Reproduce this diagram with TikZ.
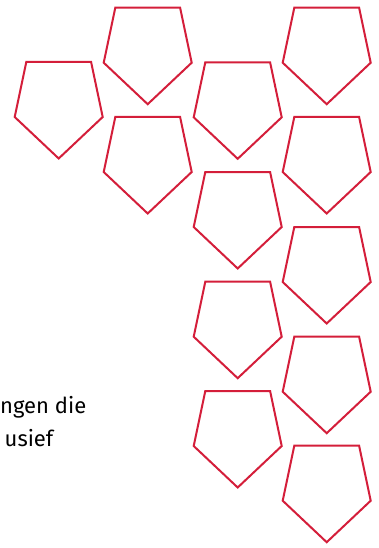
\documentclass[tikz,border=0pt]{standalone}
\usepackage{fontspec}
\setmainfont{Fira Sans}
\usepackage{xcolor}
\usepackage{tikz}

\definecolor{shieldred}{RGB}{212,30,58}

\begin{document}
\begin{tikzpicture}[x=1pt, y=-1pt, shield/.style={draw=shieldred, line width=2pt, line join=miter}]
    \useasboundingbox (0,0) rectangle (379,548);
    % shields, each given by the centre of its top edge
    \foreach \cx/\ty in {58.7/62, 147.7/7.7, 147.7/117, 237.7/62.3, 237.7/172, 237.7/281.7, 237.7/391, 326.7/7.7, 326.7/117, 326.7/227, 326.7/336.7, 326.7/445.7}
        \draw [shield, shift={(\cx,\ty)}] (-32.4,0) -- (32.4,0) -- (44,55) -- (0,96.5) -- (-44,55) -- cycle;
    \node [anchor=base west, inner sep=0, font=\fontsize{22}{26}\selectfont] (lineone) at (0,413) {ngen die};
    \node [anchor=base west, inner sep=0, font=\fontsize{22}{26}\selectfont] (linetwo) at (4.5,446) {usief};
\end{tikzpicture}
\end{document}
